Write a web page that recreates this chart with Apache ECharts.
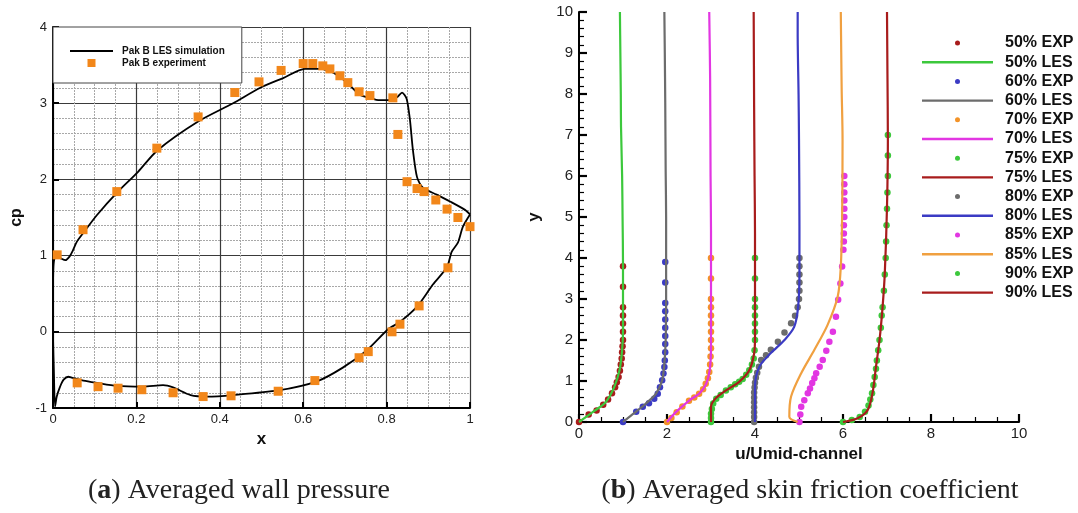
<!DOCTYPE html>
<html><head><meta charset="utf-8">
<script src="https://cdn.jsdelivr.net/npm/echarts@6/dist/echarts.min.js"></script>
<style>html,body{margin:0;padding:0;background:#fff}#c{width:1078px;height:513px}</style>
</head><body><div id="c"></div>
<script>
// ---------- Panel (a): averaged wall pressure ----------
const pakLES = [
[1.0,1.54],[0.988,1.60],[0.952,1.71],[0.92,1.80],[0.887,1.89],[0.873,2.03],[0.863,2.39],[0.856,2.78],[0.848,3.06],[0.837,3.14],[0.825,3.08],[0.803,3.04],[0.78,3.04],[0.765,3.06],[0.736,3.11],[0.705,3.27],[0.672,3.40],[0.64,3.45],[0.604,3.45],[0.552,3.33],[0.496,3.20],[0.432,3.00],[0.348,2.76],[0.25,2.38],[0.204,2.10],[0.154,1.83],[0.105,1.53],[0.073,1.30],[0.057,1.18],[0.047,1.06],[0.04,0.99],[0.03,0.94],[0.02,0.96],[0.01,0.99],[0.004,0.97],[0.001,0.85],[0.0,0.5],[0.0,0.0],[0.002,-0.5],[0.005,-0.98],[0.009,-0.85],[0.017,-0.72],[0.025,-0.63],[0.037,-0.59],[0.045,-0.60],[0.073,-0.64],[0.105,-0.67],[0.153,-0.71],[0.216,-0.72],[0.264,-0.70],[0.288,-0.73],[0.33,-0.83],[0.37,-0.85],[0.432,-0.83],[0.54,-0.77],[0.633,-0.65],[0.695,-0.47],[0.753,-0.24],[0.803,0.03],[0.832,0.13],[0.873,0.33],[0.911,0.62],[0.945,0.85],[0.956,1.05],[0.971,1.17],[0.983,1.38],[1.0,1.54]
];
const pakEXP = [
[0.01,1.01],[0.072,1.34],[0.153,1.84],[0.249,2.41],[0.348,2.82],[0.436,3.14],[0.494,3.28],[0.547,3.43],[0.60,3.52],[0.623,3.52],[0.647,3.49],[0.664,3.45],[0.688,3.36],[0.707,3.27],[0.734,3.15],[0.76,3.10],[0.815,3.07],[0.827,2.59],[0.849,1.97],[0.873,1.88],[0.89,1.84],[0.918,1.73],[0.945,1.61],[0.971,1.50],[1.0,1.38],
[0.058,-0.67],[0.108,-0.72],[0.156,-0.74],[0.213,-0.76],[0.288,-0.80],[0.36,-0.85],[0.427,-0.84],[0.54,-0.78],[0.628,-0.64],[0.734,-0.34],[0.756,-0.26],[0.813,0.0],[0.832,0.10],[0.878,0.34],[0.947,0.84]
];
const leftNames = ['Pak B LES simulation','Pak B experiment'];

// ---------- Panel (b): velocity profiles (offset by station) ----------
const les50 = [[0,0],[0.31,0.24],[0.61,0.49],[0.80,0.85],[0.92,1.26],[0.98,1.75],[1.0,2.24],[1.0,3.86],[0.99,5],[0.98,6],[0.955,7.2],[0.95,8],[0.94,9],[0.93,10]];
const exp50 = [[0,0],[0.22,0.18],[0.4,0.28],[0.55,0.42],[0.66,0.55],[0.75,0.7],[0.82,0.85],[0.86,0.97],[0.9,1.1],[0.93,1.25],[0.95,1.4],[0.97,1.55],[0.98,1.7],[0.99,1.85],[1.0,2.0],[1.0,2.2],[1.0,2.4],[1.0,2.6],[1.0,2.8],[1.0,3.3],[1.0,3.8]];
const les60 = [[1,0],[1.26,0.22],[1.52,0.45],[1.75,0.69],[1.89,1.02],[1.94,1.42],[1.97,1.99],[1.98,3.05],[1.98,5],[1.97,6.1],[1.96,7.8],[1.95,9],[1.94,10]];
const exp60 = [[1,0],[1.3,0.25],[1.45,0.37],[1.59,0.46],[1.71,0.57],[1.79,0.69],[1.84,0.85],[1.89,1.02],[1.92,1.18],[1.94,1.34],[1.95,1.5],[1.96,1.7],[1.96,1.9],[1.96,2.1],[1.96,2.3],[1.96,2.5],[1.96,2.7],[1.96,2.9],[1.96,3.4],[1.96,3.9]];
const les70 = [[2,0],[2.2,0.24],[2.51,0.53],[2.73,0.69],[2.89,0.93],[2.97,1.26],[3.0,1.83],[3.0,4.67],[2.99,6],[2.98,8.4],[2.96,10]];
const exp70 = [[2,0],[2.1,0.1],[2.22,0.24],[2.35,0.38],[2.5,0.52],[2.62,0.6],[2.73,0.69],[2.82,0.8],[2.88,0.93],[2.93,1.07],[2.96,1.22],[2.98,1.4],[2.99,1.6],[3.0,1.8],[3.0,2.0],[3.0,2.2],[3.0,2.4],[3.0,2.6],[3.0,2.8],[3.0,3.0],[3.0,3.5],[3.0,4.0]];
const les75 = [[3,0],[3,0.37],[3.1,0.57],[3.34,0.77],[3.64,0.98],[3.87,1.26],[3.98,1.67],[4.0,2.07],[4.0,4.6],[3.99,6],[3.98,7.7],[3.97,10]];
const exp75 = [[3,0],[3.0,0.1],[3.0,0.2],[3.02,0.32],[3.05,0.45],[3.12,0.57],[3.22,0.66],[3.34,0.77],[3.45,0.85],[3.55,0.92],[3.64,0.98],[3.72,1.05],[3.8,1.15],[3.87,1.26],[3.93,1.4],[3.97,1.55],[3.99,1.75],[4.0,2.0],[4.0,2.2],[4.0,2.4],[4.0,2.6],[4.0,2.8],[4.0,3.0],[4.0,3.5],[4.0,4.0]];
const les80 = [[4,0],[4,0.86],[4.1,1.35],[4.36,1.68],[4.67,2.0],[4.89,2.32],[4.98,2.81],[5.01,3.63],[5.01,4.76],[5.0,6.9],[4.99,8],[4.97,9.5],[4.97,10]];
const exp80 = [[3.98,0],[3.98,0.12],[3.98,0.24],[3.98,0.36],[3.98,0.48],[3.98,0.6],[3.98,0.72],[3.99,0.84],[4.0,0.96],[4.02,1.08],[4.05,1.2],[4.09,1.35],[4.14,1.51],[4.25,1.63],[4.36,1.76],[4.52,1.96],[4.67,2.18],[4.82,2.41],[4.91,2.59],[4.97,2.8],[5.0,3.0],[5.01,3.2],[5.01,3.4],[5.01,3.6],[5.01,3.8],[5.01,4.0]];
const les85 = [[4.97,0],[4.78,0.13],[4.82,0.62],[5.05,1.19],[5.35,1.76],[5.65,2.37],[5.88,3.06],[5.95,3.79],[5.98,5],[5.99,6.88],[5.97,8.1],[5.96,9],[5.95,10]];
const exp85 = [[5.01,0],[5.03,0.18],[5.05,0.37],[5.12,0.53],[5.2,0.7],[5.25,0.82],[5.3,0.95],[5.35,1.07],[5.39,1.19],[5.47,1.35],[5.54,1.51],[5.62,1.74],[5.69,1.96],[5.77,2.2],[5.84,2.57],[5.89,2.98],[5.94,3.38],[5.98,3.79],[6.01,4.2],[6.02,4.4],[6.02,4.6],[6.02,4.8],[6.03,5.0],[6.03,5.2],[6.03,5.4],[6.03,5.6],[6.03,5.8],[6.03,6.0]];
const les90 = [[6,0],[6.33,0.09],[6.56,0.29],[6.67,0.7],[6.75,1.35],[6.83,2.0],[6.9,2.81],[6.95,3.63],[7.0,5.25],[7.02,6.88],[7.01,8.5],[7.0,10]];
const exp90 = [[6.0,0],[6.2,0.05],[6.38,0.12],[6.5,0.25],[6.58,0.4],[6.62,0.55],[6.66,0.7],[6.69,0.9],[6.72,1.1],[6.75,1.3],[6.77,1.5],[6.8,1.75],[6.83,2.0],[6.86,2.3],[6.88,2.6],[6.9,2.8],[6.93,3.2],[6.95,3.6],[6.97,4.0],[6.98,4.4],[6.99,4.8],[7.0,5.2],[7.01,5.6],[7.02,6.0],[7.02,6.5],[7.02,7.0]];
const stations = ['50%','60%','70%','75%','80%','85%','90%'];
const expSets = [exp50, exp60, exp70, exp75, exp80, exp85, exp90];
const lesSets = [les50, les60, les70, les75, les80, les85, les90];

// ---------- styles ----------
const SANS = '"Liberation Sans", Arial, Helvetica, sans-serif';
const SERIF = '"Liberation Serif", "Times New Roman", serif';
const C = {red:'#a81c1c', green:'#3cc83c', blue:'#3b3bc4', gray:'#6c6c6c', orange:'#f0a040', orangeDot:'#f39328', magenta:'#e236e2'};
const expColors = [C.red, C.blue, C.orangeDot, C.green, C.gray, C.magenta, C.green];
const lesColors = [C.green, C.gray, C.magenta, C.red, C.blue, C.orange, C.red];

const lineIconL = 'path://M0,0M43,10M0,4L43,4L43,6L0,6Z';
const sqIconL = 'path://M0,0M43,10M17.5,1L25.5,1L25.5,9L17.5,9Z';
const lineIconR = 'path://M0,0M71,14M0,5.8L71,5.8L71,8.2L0,8.2Z';
const dotIconR = 'path://M0,0M71,14M33,7A2.5,2.5,0,1,1,38,7A2.5,2.5,0,1,1,33,7Z';

const series = [
  {type:'line', name:leftNames[0], xAxisIndex:0, yAxisIndex:0, data:pakLES, symbol:'none', showSymbol:false, smooth:0.25,
   lineStyle:{color:'#000', width:1.8}, itemStyle:{color:'#000'}, z:3},
  {type:'scatter', name:leftNames[1], xAxisIndex:0, yAxisIndex:0, data:pakEXP, symbol:'rect', symbolSize:9,
   itemStyle:{color:'#f2871a', opacity:1}, z:4}
];
const rightLegend = [];
stations.forEach((s, i) => {
  series.push({type:'scatter', name:s+' EXP', xAxisIndex:1, yAxisIndex:1, data:expSets[i], symbol:'circle', symbolSize:6.5,
    itemStyle:{color:expColors[i], opacity:1}, z:3});
  series.push({type:'line', name:s+' LES', xAxisIndex:1, yAxisIndex:1, data:lesSets[i], symbol:'none', showSymbol:false, smooth:0.3,
    lineStyle:{color:lesColors[i], width:2.2}, itemStyle:{color:lesColors[i]}, z:4});
  rightLegend.push({name:s+' EXP', icon:dotIconR, itemStyle:{color:expColors[i]}});
  rightLegend.push({name:s+' LES', icon:lineIconR, itemStyle:{color:lesColors[i]}});
});

const lab = {fontFamily:SANS, fontSize:13, color:'#222'};
const option = {
  animation:false,
  backgroundColor:'#fff',
  grid:[
    {left:53, top:27, width:417, height:381, show:false},
    {left:579, top:12, width:440, height:410, show:false}
  ],
  xAxis:[
    {gridIndex:0, type:'value', min:0, max:1, interval:0.2,
     name:'x', nameLocation:'middle', nameGap:19, nameTextStyle:{fontFamily:SANS, fontSize:17, fontWeight:'bold', color:'#111'},
     axisLine:{show:true, onZero:false, lineStyle:{color:'#000', width:2}},
     axisTick:{show:true, inside:true, length:6, lineStyle:{color:'#000', width:2}},
     axisLabel:{...lab, margin:5, formatter:v=>String(Math.round(v*10)/10)},
     splitLine:{show:true, lineStyle:{color:'#3a3a3a', width:1.2}},
     minorTick:{show:false, splitNumber:4},
     minorSplitLine:{show:true, lineStyle:{color:'#a8a8a8', width:1, type:[2,1]}}},
    {gridIndex:1, type:'value', min:0, max:10, interval:2,
     name:'u/Umid-channel', nameLocation:'middle', nameGap:20, nameTextStyle:{fontFamily:SANS, fontSize:17, fontWeight:'bold', color:'#111'},
     axisLine:{show:true, onZero:false, lineStyle:{color:'#000', width:2}},
     axisTick:{show:true, inside:true, length:8, lineStyle:{color:'#000', width:2.2}},
     minorTick:{show:true, splitNumber:4, length:5, lineStyle:{color:'#000', width:1.2}},
     axisLabel:{...lab, fontSize:15, margin:4},
     splitLine:{show:false}}
  ],
  yAxis:[
    {gridIndex:0, type:'value', min:-1, max:4, interval:1,
     name:'cp', nameLocation:'middle', nameGap:28, nameRotate:90, nameTextStyle:{fontFamily:SANS, fontSize:16, fontWeight:'bold', color:'#111'},
     axisLine:{show:true, onZero:false, lineStyle:{color:'#000', width:2}},
     axisTick:{show:true, inside:true, length:6, lineStyle:{color:'#000', width:2}},
     axisLabel:{...lab, margin:6},
     splitLine:{show:true, lineStyle:{color:'#3a3a3a', width:1.2}},
     minorTick:{show:false, splitNumber:5},
     minorSplitLine:{show:true, lineStyle:{color:'#a8a8a8', width:1, type:[2,1]}}},
    {gridIndex:1, type:'value', min:0, max:10, interval:1,
     name:'y', nameLocation:'middle', nameGap:36, nameRotate:90, nameTextStyle:{fontFamily:SANS, fontSize:17, fontWeight:'bold', color:'#111'},
     axisLine:{show:true, onZero:false, lineStyle:{color:'#000', width:2}},
     axisTick:{show:true, inside:true, length:8, lineStyle:{color:'#000', width:2.2}},
     minorTick:{show:true, splitNumber:5, length:5, lineStyle:{color:'#000', width:1.2}},
     axisLabel:{...lab, fontSize:15, margin:6},
     splitLine:{show:false}}
  ],
  legend:[
    {data:[{name:leftNames[0], icon:lineIconL, itemStyle:{color:'#000'}},{name:leftNames[1], icon:sqIconL, itemStyle:{color:'#f2871a'}}],
     orient:'vertical', left:53, top:27, itemWidth:43, itemHeight:10, itemGap:2, padding:[19,17,15,17],
     backgroundColor:'#fff', borderColor:'#444', borderWidth:1, selectedMode:false,
     itemStyle:{borderWidth:0},
     textStyle:{fontFamily:SANS, fontSize:10, fontWeight:'bold', color:'#111', padding:[0,0,0,4]}},
    {data:rightLegend, orient:'vertical', left:922, top:35, itemWidth:71, itemHeight:14, itemGap:3.2, padding:0,
     selectedMode:false, itemStyle:{borderWidth:0},
     textStyle:{fontFamily:SANS, fontSize:16, fontWeight:'bold', color:'#111', padding:[0,0,0,7]}}
  ],
  graphic:[
    {type:'text', x:239, y:491, style:{text:'({b|a}) Averaged wall pressure', font:'28px '+SERIF, fill:'#222', textAlign:'center', textVerticalAlign:'middle',
      rich:{b:{fontFamily:SERIF, fontSize:28, fontWeight:'bold', fill:'#222'}}}},
    {type:'text', x:810, y:491, style:{text:'({b|b}) Averaged skin friction coefficient', font:'28px '+SERIF, fill:'#222', textAlign:'center', textVerticalAlign:'middle',
      rich:{b:{fontFamily:SERIF, fontSize:28, fontWeight:'bold', fill:'#222'}}}}
  ],
  series:series
};
const chart = echarts.init(document.getElementById('c'), null, {renderer:'canvas', width:1078, height:513});
chart.setOption(option);
</script></body></html>
